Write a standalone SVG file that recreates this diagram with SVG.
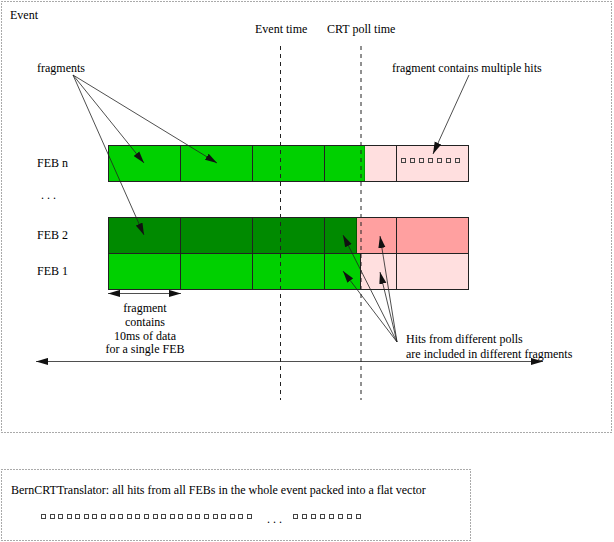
<svg xmlns="http://www.w3.org/2000/svg" width="614" height="542" viewBox="0 0 614 542">
<defs>
<style>
text{font-family:"Liberation Serif","Times New Roman",serif;font-size:12px;fill:#000}
.box{fill:none;stroke:#555;stroke-width:1;stroke-dasharray:1 2}
.cell{stroke:#222;stroke-width:1}
.div{stroke:#222;stroke-width:1}
.dash{stroke:#222;stroke-width:1;stroke-dasharray:4 4;fill:none}
.ar{stroke:#222;stroke-width:0.8;fill:none;marker-end:url(#ah)}
.dbl{stroke:#222;stroke-width:0.8;fill:none;marker-end:url(#ah);marker-start:url(#ah)}
.sq{fill:none;stroke:#444;stroke-width:1}
.g{fill:#00d000}
.dg{fill:#008a00}
.p{fill:#ffdfdf}
.dp{fill:#ffa0a0}
</style>
<marker id="ah" markerUnits="userSpaceOnUse" markerWidth="12" markerHeight="8" refX="10" refY="3" orient="auto-start-reverse" viewBox="0 0 10 6">
<path d="M0,0 L10,3 L0,6 z" fill="#111"/>
</marker>
</defs>
<rect width="614" height="542" fill="#fff"/>

<g id="event-box">
<rect class="box" x="1.5" y="1.5" width="610" height="431"/>
<text x="10" y="19">Event</text>
</g>

<g id="feb-n">
<rect class="p" x="108.5" y="145.5" width="360" height="36"/>
<rect class="g" x="108.5" y="145.5" width="256" height="36"/>
<line x1="364.5" y1="145.5" x2="364.5" y2="181.5" stroke="#00a000" stroke-width="1"/>
<rect class="cell" fill="none" x="108.5" y="145.5" width="360" height="36"/>
<path class="div" d="M180.5,145.5V181.5M252.5,145.5V181.5M324.5,145.5V181.5M396.5,145.5V181.5"/>
<g class="sq">
<rect x="401.5" y="158.5" width="4" height="4"/>
<rect x="410.5" y="158.5" width="4" height="4"/>
<rect x="419.5" y="158.5" width="4" height="4"/>
<rect x="428.5" y="158.5" width="4" height="4"/>
<rect x="437.5" y="158.5" width="4" height="4"/>
<rect x="446.5" y="158.5" width="4" height="4"/>
<rect x="455.5" y="158.5" width="4" height="4"/>
</g>
<text x="37" y="167">FEB n</text>
</g>

<g id="feb-dots">
<text x="41" y="199">. . .</text>
</g>

<g id="feb-2">
<rect class="dp" x="108.5" y="217.5" width="360" height="36"/>
<rect class="dg" x="108.5" y="217.5" width="248" height="36"/>
<line x1="356.5" y1="217.5" x2="356.5" y2="253.5" stroke="#005a00" stroke-width="1"/>
<rect class="cell" fill="none" x="108.5" y="217.5" width="360" height="36"/>
<path class="div" d="M180.5,217.5V253.5M252.5,217.5V253.5M324.5,217.5V253.5M396.5,217.5V253.5"/>
<text x="37" y="239">FEB 2</text>
</g>

<g id="feb-1">
<rect class="p" x="108.5" y="253.5" width="360" height="36"/>
<rect class="g" x="108.5" y="253.5" width="252" height="36"/>
<rect class="cell" fill="none" x="108.5" y="253.5" width="360" height="36"/>
<path class="div" d="M180.5,253.5V289.5M252.5,253.5V289.5M324.5,253.5V289.5M360.5,253.5V289.5M396.5,253.5V289.5"/>
<text x="37" y="275">FEB 1</text>
</g>

<g id="time-markers">
<line class="dash" x1="280.5" y1="46" x2="280.5" y2="400"/>
<line class="dash" x1="361" y1="46" x2="361" y2="400"/>
<text x="255" y="33">Event time</text>
<text x="327" y="33">CRT poll time</text>
</g>

<g id="labels">
<text x="37" y="72">fragments</text>
<text x="392" y="72">fragment contains multiple hits</text>
<text x="145" y="312" text-anchor="middle">fragment</text>
<text x="145" y="326" text-anchor="middle">contains</text>
<text x="145" y="339.5" text-anchor="middle">10ms of data</text>
<text x="145" y="353" text-anchor="middle">for a single FEB</text>
<text x="406" y="343">Hits from different polls</text>
<text x="406" y="358">are included in different fragments</text>
</g>

<g id="connectors">
<line class="ar" x1="73" y1="75" x2="144" y2="163"/>
<line class="ar" x1="73" y1="75" x2="217" y2="163"/>
<line class="ar" x1="73" y1="75" x2="144" y2="235"/>
<line class="ar" x1="469" y1="75" x2="433" y2="154"/>
<line class="ar" x1="397" y1="342" x2="343" y2="235"/>
<line class="ar" x1="397" y1="342" x2="343" y2="271"/>
<line class="ar" x1="397" y1="342" x2="380" y2="236"/>
<line class="ar" x1="397" y1="342" x2="380" y2="272"/>
<line class="dbl" x1="108" y1="293.5" x2="181" y2="293.5"/>
<line class="dbl" x1="36" y1="361.5" x2="543" y2="361.5"/>
</g>

<g id="translator-box">
<rect class="box" x="1.5" y="469.5" width="469" height="71"/>
<text x="11" y="494">BernCRTTranslator: all hits from all FEBs in the whole event packed into a flat vector</text>
<g class="sq">
<rect x="41.5" y="514.5" width="4" height="4"/>
<rect x="50.5" y="514.5" width="4" height="4"/>
<rect x="58.5" y="514.5" width="4" height="4"/>
<rect x="67.5" y="514.5" width="4" height="4"/>
<rect x="75.5" y="514.5" width="4" height="4"/>
<rect x="84.5" y="514.5" width="4" height="4"/>
<rect x="92.5" y="514.5" width="4" height="4"/>
<rect x="101.5" y="514.5" width="4" height="4"/>
<rect x="110.5" y="514.5" width="4" height="4"/>
<rect x="118.5" y="514.5" width="4" height="4"/>
<rect x="127.5" y="514.5" width="4" height="4"/>
<rect x="135.5" y="514.5" width="4" height="4"/>
<rect x="144.5" y="514.5" width="4" height="4"/>
<rect x="153.5" y="514.5" width="4" height="4"/>
<rect x="161.5" y="514.5" width="4" height="4"/>
<rect x="170.5" y="514.5" width="4" height="4"/>
<rect x="178.5" y="514.5" width="4" height="4"/>
<rect x="187.5" y="514.5" width="4" height="4"/>
<rect x="195.5" y="514.5" width="4" height="4"/>
<rect x="204.5" y="514.5" width="4" height="4"/>
<rect x="213.5" y="514.5" width="4" height="4"/>
<rect x="221.5" y="514.5" width="4" height="4"/>
<rect x="230.5" y="514.5" width="4" height="4"/>
<rect x="238.5" y="514.5" width="4" height="4"/>
<rect x="247.5" y="514.5" width="4" height="4"/>
<rect x="293.5" y="514.5" width="4" height="4"/>
<rect x="302.5" y="514.5" width="4" height="4"/>
<rect x="311.5" y="514.5" width="4" height="4"/>
<rect x="320.5" y="514.5" width="4" height="4"/>
<rect x="329.5" y="514.5" width="4" height="4"/>
<rect x="338.5" y="514.5" width="4" height="4"/>
<rect x="347.5" y="514.5" width="4" height="4"/>
<rect x="356.5" y="514.5" width="4" height="4"/>
</g>
<text x="267" y="523">. . .</text>
</g>
</svg>
